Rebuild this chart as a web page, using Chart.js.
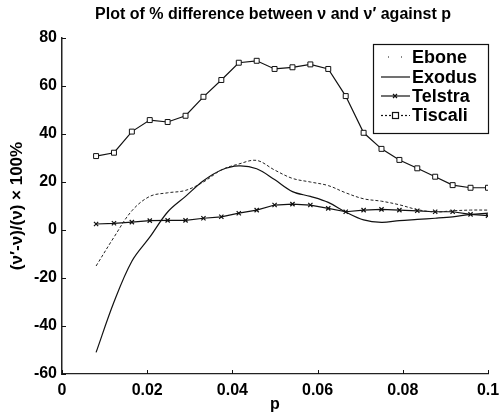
<!DOCTYPE html>
<html>
<head>
<meta charset="utf-8">
<script src="https://cdn.jsdelivr.net/npm/chart.js@4.4.1/dist/chart.umd.min.js"></script>
<style>
  html, body { margin: 0; padding: 0; background: #fff; }
  #wrap { width: 499px; height: 415px; }
</style>
</head>
<body>
<div id="wrap"><canvas id="chart" width="499" height="415"></canvas></div>
<script>
// sample positions along p
const pValues = [0.008, 0.0122, 0.0164, 0.0206, 0.0248, 0.029, 0.0332, 0.0374, 0.0415, 0.0457, 0.0499, 0.0541,
                 0.0583, 0.0625, 0.0666, 0.0708, 0.075, 0.0792, 0.0834, 0.0876, 0.0917, 0.0959, 0.1];

const ebone   = [-15, -3, 8, 14, 15.5, 16.5, 20, 25, 27.5, 29, 25, 21.5, 20, 18.5, 15.5, 13, 12, 10.5, 8.5, 7.5, 8, 8.3, 8.3];
const exodus  = [-51, -30, -13, -3, 7.5, 14, 20.5, 25, 26.7, 25.5, 21, 16, 14, 11.5, 7.5, 4.2, 3.2, 3.9, 4.4, 4.9, 5.5, 6.5, 7];
const telstra = [2.5, 2.8, 3.3, 3.9, 4.0, 4.0, 4.9, 5.5, 7.0, 8.3, 10.4, 10.8, 10.4, 9.0, 7.6, 8.3, 8.6, 8.3, 8.0, 7.6, 7.6, 6.5, 6.0];
const tiscali = [30.8, 32.2, 41, 45.8, 45, 47.6, 55.5, 62.5, 69.7, 70.5, 67.1, 67.8, 69, 67.1, 55.8, 40.5, 33.8, 29.2, 25.7, 22.2, 18.7, 17.6, 17.6];

const seriesNames = ["Ebone", "Exodus", "Telstra", "Tiscali"];
const xTicks = [0, 0.02, 0.04, 0.06, 0.08, 0.1];
const yTicks = [-60, -40, -20, 0, 20, 40, 60, 80];

const FONT = "'Liberation Sans', Arial, sans-serif";
const toPoints = ys => ys.map((y, i) => ({ x: pValues[i], y: y }));

// legend samples, drawn the matlab way (line on the left, name on the right)
const legendStyle = [
  { dash: [1, 12], marker: null },
  { dash: [], marker: null },
  { dash: [], marker: "x" },
  { dash: [2, 2], marker: "sq" }
];

const matlabBits = {
  id: "matlabBits",
  afterDraw(chart) {
    const ctx = chart.ctx;
    const xs = chart.scales.x, ys = chart.scales.y;
    const area = chart.chartArea;
    ctx.save();

    // inward tick marks
    ctx.strokeStyle = "#111";
    ctx.lineWidth = 1;
    xTicks.forEach(v => {
      const px = Math.round(xs.getPixelForValue(v)) + 0.5;
      ctx.beginPath(); ctx.moveTo(px, area.bottom); ctx.lineTo(px, area.bottom - 4); ctx.stroke();
    });
    yTicks.forEach(v => {
      const py = Math.round(ys.getPixelForValue(v)) + 0.5;
      ctx.beginPath(); ctx.moveTo(area.left, py); ctx.lineTo(area.left + 4, py); ctx.stroke();
    });

    // title
    ctx.fillStyle = "#000";
    ctx.font = "bold 16px " + FONT;
    ctx.textAlign = "center";
    ctx.textBaseline = "middle";
    ctx.fillText("Plot of % difference between \u03BD and \u03BD\u2032 against p", (area.left + area.right) / 2 - 2, 15);

    // legend box
    const bx = 373.5, by = 44.5, bw = 115, bh = 89;
    ctx.fillStyle = "#fff";
    ctx.fillRect(bx, by, bw, bh);
    ctx.strokeStyle = "#111";
    ctx.lineWidth = 1.2;
    ctx.strokeRect(bx, by, bw, bh);

    ctx.font = "bold 18px " + FONT;
    ctx.textAlign = "left";
    const rowY = [57, 77, 96, 115.5];
    seriesNames.forEach((name, i) => {
      const y = rowY[i];
      const st = legendStyle[i];
      ctx.strokeStyle = "#111";
      ctx.lineWidth = 1.2;
      ctx.setLineDash(st.dash);
      ctx.beginPath();
      if (i === 0) { ctx.moveTo(388, y); ctx.lineTo(410, y); }
      else { ctx.moveTo(381, y); ctx.lineTo(410, y); }
      ctx.stroke();
      ctx.setLineDash([]);
      if (st.marker === "x") {
        ctx.beginPath();
        ctx.moveTo(393, y - 2); ctx.lineTo(397, y + 2);
        ctx.moveTo(397, y - 2); ctx.lineTo(393, y + 2);
        ctx.stroke();
      } else if (st.marker === "sq") {
        ctx.fillStyle = "#fff";
        ctx.fillRect(392.5, y - 3, 6, 6);
        ctx.strokeRect(392.5, y - 3, 6, 6);
      }
      ctx.fillStyle = "#000";
      ctx.fillText(name, 412, y + 1);
    });
    ctx.restore();
  }
};

new Chart(document.getElementById("chart"), {
  type: "line",
  data: {
    datasets: [
      {
        label: seriesNames[0],
        data: toPoints(ebone),
        borderColor: "#222",
        borderWidth: 1,
        borderDash: [3, 2],
        pointRadius: 0,
        tension: 0.35
      },
      {
        label: seriesNames[1],
        data: toPoints(exodus),
        borderColor: "#111",
        borderWidth: 1.2,
        pointRadius: 0,
        tension: 0.35
      },
      {
        label: seriesNames[2],
        data: toPoints(telstra),
        borderColor: "#111",
        borderWidth: 1.2,
        pointStyle: "crossRot",
        pointRadius: 3,
        pointBorderColor: "#111",
        pointBorderWidth: 1.2,
        tension: 0
      },
      {
        label: seriesNames[3],
        data: toPoints(tiscali),
        borderColor: "#111",
        borderWidth: 1.2,
        pointStyle: "rect",
        pointRadius: 3.5,
        pointBackgroundColor: "#fff",
        pointBorderColor: "#111",
        pointBorderWidth: 1,
        tension: 0
      }
    ]
  },
  options: {
    responsive: false,
    animation: false,
    layout: { padding: { top: 38, right: 11, bottom: 1, left: 0 } },
    plugins: {
      legend: { display: false },
      title: { display: false },
      tooltip: { enabled: false }
    },
    scales: {
      x: {
        type: "linear",
        min: 0,
        max: 0.1,
        afterFit: s => { s.height = 40; s.paddingLeft = 0; s.paddingRight = 0; },
        afterBuildTicks: s => { s.ticks = xTicks.map(v => ({ value: v })); },
        grid: { display: false, drawTicks: false },
        border: { display: true, color: "#222", width: 1.2 },
        ticks: {
          padding: 7,
          color: "#000",
          font: { family: FONT, size: 16, weight: "bold" },
          callback: v => String(Number(v.toFixed(2)))
        },
        title: {
          display: true,
          text: "p",
          color: "#000",
          padding: { top: 0, bottom: 0 },
          font: { family: FONT, size: 16, weight: "bold" }
        }
      },
      y: {
        min: -60,
        max: 80,
        afterFit: s => { s.width = 62; s.paddingTop = 0; s.paddingBottom = 0; },
        afterBuildTicks: s => { s.ticks = yTicks.map(v => ({ value: v })); },
        grid: { display: false, drawTicks: false },
        border: { display: true, color: "#222", width: 1.5 },
        ticks: {
          padding: 5,
          color: "#000",
          font: { family: FONT, size: 16, weight: "bold" }
        },
        title: {
          display: true,
          text: "(\u03BD\u2032-\u03BD)/(\u03BD) \u00D7 100%",
          color: "#000",
          padding: { top: 7, bottom: 0 },
          font: { family: FONT, size: 17, weight: "bold" }
        }
      }
    }
  },
  plugins: [matlabBits]
});
</script>
</body>
</html>
